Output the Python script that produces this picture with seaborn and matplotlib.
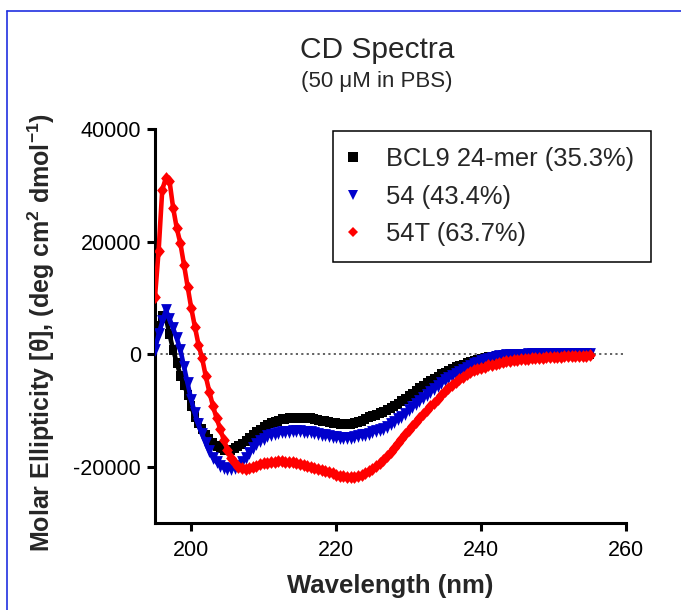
import numpy as np
import matplotlib
matplotlib.use("Agg")
import matplotlib.pyplot as plt
import seaborn as sns
from matplotlib.lines import Line2D

# ---------------- data ----------------
wavelength = np.arange(195.0, 255.25, 0.5)  # nm, 0.5 nm sampling grid

bcl9 = [
    3000, 5000, 6800, 6500, 3500, 800, -1500, -3800, -5400, -7200,
    -9300, -11100, -12300, -13300, -14300, -15100, -15800, -16300, -16700, -17000,
    -17100, -17000, -16700, -16300, -15900, -15400, -14900, -14400, -13900, -13400,
    -13000, -12600, -12300, -12000, -11800, -11600, -11500, -11400, -11350, -11300,
    -11300, -11300, -11350, -11400, -11500, -11650, -11800, -11950, -12100, -12200,
    -12300, -12400, -12450, -12450, -12400, -12300, -12100, -11850, -11550, -11250,
    -11000, -10750, -10500, -10200, -9900, -9600, -9300, -8850, -8400, -7950,
    -7500, -7050, -6550, -6050, -5600, -5150, -4750, -4350, -4000, -3600,
    -3300, -2950, -2650, -2350, -2100, -1850, -1600, -1400, -1200, -1000,
    -800, -650, -520, -420, -340, -280, -230, -190, -160, -130,
    -110, -95, -80, -70, -60, -55, -50, -45, -40, -35,
    -30, -30, -25, -25, -20, -20, -15, -15, -10, -10,
    -10,
]

p54 = [
    800, 3500, 5800, 7800, 6300, 4600, 2800, 800, -2200, -5200,
    -8100, -10500, -12500, -14200, -15800, -17200, -18400, -19200, -19800, -20200,
    -20400, -20400, -20200, -19800, -19200, -18400, -17600, -16700, -16000, -15400,
    -15000, -14600, -14300, -14100, -14000, -13900, -13800, -13750, -13700, -13700,
    -13700, -13750, -13800, -13900, -14000, -14150, -14300, -14450, -14600, -14700,
    -14800, -14850, -14900, -14900, -14850, -14750, -14600, -14450, -14300, -14150,
    -13900, -13700, -13500, -13300, -12900, -12500, -12000, -11600, -11100, -10600,
    -10000, -9450, -8900, -8350, -7800, -7250, -6700, -6150, -5600, -5100,
    -4600, -4200, -3800, -3450, -3100, -2750, -2400, -2100, -1800, -1500,
    -1200, -1000, -800, -650, -500, -400, -300, -240, -190, -150,
    -110, -90, -70, -60, -50, -45, -40, -35, -30, -30,
    -25, -25, -20, -20, -15, -15, -10, -10, -5, -5,
    0,
]

p54t = [
    10200, 18400, 29200, 31300, 30800, 26000, 22400, 19700, 15900, 12000,
    8200, 4900, 1700, -700, -3900, -6700, -9200, -11400, -13300, -15300,
    -17000, -18400, -19400, -20000, -20300, -20400, -20300, -20100, -19800, -19600,
    -19400, -19300, -19200, -19100, -19050, -19050, -19100, -19150, -19250, -19350,
    -19500, -19650, -19800, -20000, -20200, -20400, -20600, -20800, -21000, -21200,
    -21400, -21600, -21700, -21800, -21850, -21800, -21650, -21400, -21100, -20800,
    -20400, -19900, -19400, -18800, -18100, -17400, -16600, -15800, -15000, -14200,
    -13500, -12800, -12000, -11300, -10700, -10000, -9300, -8600, -7900, -7300,
    -6600, -6000, -5400, -4900, -4400, -4000, -3600, -3250, -2900, -2650,
    -2400, -2200, -2000, -1850, -1700, -1550, -1420, -1300, -1200, -1100,
    -1000, -930, -860, -800, -740, -690, -640, -600, -560, -520,
    -490, -460, -430, -400, -370, -340, -310, -290, -270, -250,
    -230,
]

series_labels = ["BCL9 24-mer (35.3%)", "54 (43.4%)", "54T (63.7%)"]
x_ticks = [200, 220, 240, 260]
y_ticks = [-20000, 0, 20000, 40000]

# ---------------- style ----------------
sns.set_style("ticks")
plt.rcParams["font.family"] = ["Liberation Sans", "DejaVu Sans"]
plt.rcParams["mathtext.fontset"] = "custom"
plt.rcParams["mathtext.rm"] = "Liberation Sans"
plt.rcParams["mathtext.bf"] = "Liberation Sans:bold"
plt.rcParams["axes.unicode_minus"] = False

W, H = 681, 610
fig = plt.figure(figsize=(W / 100, H / 100), dpi=100)
fig.patch.set_facecolor("white")
ax = fig.add_axes([155 / W, 1 - 523 / H, (626 - 155) / W, (523 - 129) / H])
ax.set_facecolor("white")

colors = ["#000000", "#0000cc", "#ff0000"]
# slightly tall marker shapes, as in the reference rendering
sq_tall = [(-0.4, -0.5), (0.4, -0.5), (0.4, 0.5), (-0.4, 0.5)]
tri_tall = [(-0.42, 0.5), (0.42, 0.5), (0.0, -0.5)]
dia_tall = [(0.0, 0.5), (0.42, 0.0), (0.0, -0.5), (-0.42, 0.0)]
markers = [sq_tall, tri_tall, dia_tall]
msizes = [7.5, 9.2, 9.2]

ax.axhline(0, color="#555555", lw=1.3, ls=(0, (1.2, 1.8)), zorder=1)

for vals, c, m, ms in zip([bcl9, p54, p54t], colors, markers, msizes):
    sns.lineplot(x=wavelength, y=np.array(vals, dtype=float), ax=ax, color=c,
                 marker=m, markersize=ms, markeredgewidth=0, linewidth=3.3,
                 legend=False, zorder=3)

ax.set_xlim(195, 260)
ax.set_ylim(-30000, 40000)
ax.set_xticks(x_ticks)
ax.set_yticks(y_ticks)
ax.set_xticklabels([str(t) for t in x_ticks])
ax.set_yticklabels([str(t) for t in y_ticks])

for s in ["top", "right"]:
    ax.spines[s].set_visible(False)
for s in ["left", "bottom"]:
    ax.spines[s].set_linewidth(2.2)
    ax.spines[s].set_color("black")

ax.tick_params(axis="both", direction="out", length=6, width=2.2,
               labelsize=15.5, colors="black")
ax.tick_params(axis="x", pad=6)
ax.tick_params(axis="y", pad=4)
ax.set_xlabel("")
ax.set_ylabel("")

# ---------------- texts ----------------
fig.text(377 / W, 1 - 58 / H, "CD Spectra", ha="center", va="baseline",
         fontsize=21.5)
fig.text(377 / W, 1 - 87 / H, "(50 μM in PBS)", ha="center", va="baseline",
         fontsize=16)
fig.text(390.5 / W, 1 - 593 / H, "Wavelength (nm)", ha="center", va="baseline",
         fontsize=18.5, fontweight="bold")
fig.text(41 / W, 1 - 333 / H,
         r"Molar Ellipticity [θ], (deg cm$^{\mathbf{2}}$ dmol$^{\mathbf{-1}}$)",
         rotation=90, ha="center", va="center", fontsize=18, fontweight="bold")

# ---------------- legend ----------------
handles = [Line2D([], [], color=c, marker=m, linestyle="none",
                  markersize=s, markeredgewidth=0)
           for c, m, s in zip(colors, ["s", "v", "D"], [6.5, 6.5, 5.5])]
leg = ax.legend(handles, series_labels, loc="upper left",
                bbox_to_anchor=(333 / W, 1 - 131 / H),
                bbox_transform=fig.transFigure, borderaxespad=0,
                fontsize=18.4, frameon=True, fancybox=False, framealpha=1,
                edgecolor="black", borderpad=0.64, handlelength=0.25,
                handletextpad=1.2, labelspacing=0.52)
leg.get_frame().set_linewidth(1.1)

# ---------------- blue frame of the original page ----------------
fig.add_artist(Line2D([7 / W, 7 / W], [0, 1 - 11 / H], transform=fig.transFigure,
                      color="#2030e0", lw=1.2))
fig.add_artist(Line2D([7 / W, 1], [1 - 11 / H, 1 - 11 / H],
                      transform=fig.transFigure, color="#2030e0", lw=1.2))

fig.savefig("out.png", dpi=100, facecolor="white")
